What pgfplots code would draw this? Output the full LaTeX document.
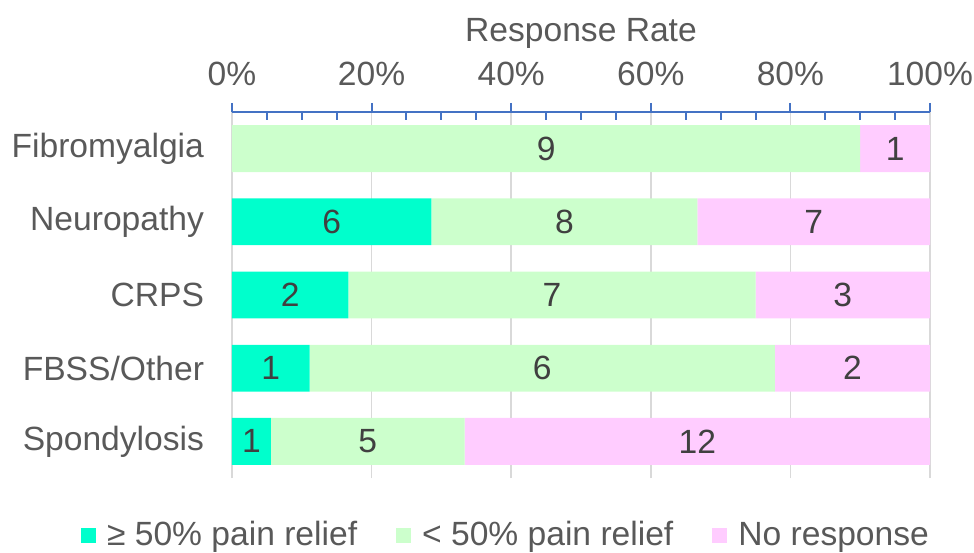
\documentclass[border=0pt]{standalone}
\usepackage{pgfplots}
\pgfplotsset{compat=1.18}
\usepackage{pgfplotstable}
\usepackage{fontspec}
\setmainfont{Liberation Sans}
\definecolor{cA}{HTML}{00FFCC}
\definecolor{cB}{HTML}{CCFFCC}
\definecolor{cC}{HTML}{FFCCFF}
\definecolor{txt}{HTML}{595959}
\definecolor{lab}{HTML}{404040}
\definecolor{axblue}{HTML}{4472C4}
\definecolor{grd}{HTML}{D9D9D9}
\newcommand{\cf}{\fontsize{16.8}{19}\selectfont}

\pgfplotstableread{
y a b c
4 0 90 10
3 28.5714 38.0952 33.3333
2 16.6667 58.3333 25
1 11.1111 66.6667 22.2222
0 5.5556 27.7778 66.6667
}\bars

\pgfplotstableread{
x y lab
45 4 9
95 4 1
14.2857 3 6
47.619 3 8
83.3333 3 7
8.3333 2 2
45.8333 2 7
87.5 2 3
5.5556 1 1
44.4444 1 6
88.8889 1 2
2.7778 0 1
19.4444 0 5
66.6667 0 12
}\labels

\begin{document}
\begin{tikzpicture}
\begin{axis}[
  name=main,
  xbar stacked,
  scale only axis, width=349pt, height=183pt,
  xmin=0, xmax=100, ymin=-0.5, ymax=4.5,
  bar width=0.64,
  clip=false,
  axis x line=top,
  axis y line=left,
  x axis line style={-, axblue, line width=1pt},
  y axis line style={draw=none},
  xtick={0,20,40,60,80,100},
  xticklabels={0\%,20\%,40\%,60\%,80\%,100\%},
  minor x tick num=3,
  tick align=outside,
  major tick length=4.5pt,
  minor tick length=4pt,
  every minor tick/.append style={yshift=-4pt},
  xtick style={axblue, line width=1pt},
  xmajorgrids,
  major grid style={grd, line width=0.75pt},
  ytick={0,1,2,3,4},
  yticklabels={Spondylosis, FBSS/Other, CRPS, Neuropathy, Fibromyalgia},
  ytick style={draw=none},
  tick label style={font=\cf, text=txt},
  x tick label style={yshift=5pt},
  y tick label style={xshift=-6pt},
  xlabel={Response Rate},
  xlabel style={font=\cf, text=txt},
  legend columns=3,
  legend style={draw=none, at={(0.394,-0.096)}, anchor=north, font=\cf, text=txt,
    /tikz/every odd column/.append style={column sep=3.5pt},
    /tikz/every even column/.append style={column sep=17.5pt}},
  legend image code/.code={\fill[#1] (0pt,-3.75pt) rectangle (7.5pt,3.75pt);},
]
\addplot[fill=cA, draw=none] table[x=a, y=y]{\bars};
\addlegendentry{≥ 50\% pain relief}
\addplot[fill=cB, draw=none] table[x=b, y=y]{\bars};
\addlegendentry{< 50\% pain relief}
\addplot[fill=cC, draw=none] table[x=c, y=y]{\bars};
\addlegendentry{No response}
\end{axis}
\begin{axis}[
  scale only axis, width=349pt, height=183pt,
  xmin=0, xmax=100, ymin=-0.5, ymax=4.5,
  hide axis, clip=false,
]
\addplot[draw=none, nodes near coords, point meta=explicit symbolic,
  every node near coord/.append style={anchor=center, font=\cf, text=lab}]
  table[x=x, y=y, meta=lab]{\labels};
\end{axis}
\pgfresetboundingbox
\path (main.south west) ++(-116pt,-37pt) rectangle ++(487pt,276pt);
\end{tikzpicture}
\end{document}
